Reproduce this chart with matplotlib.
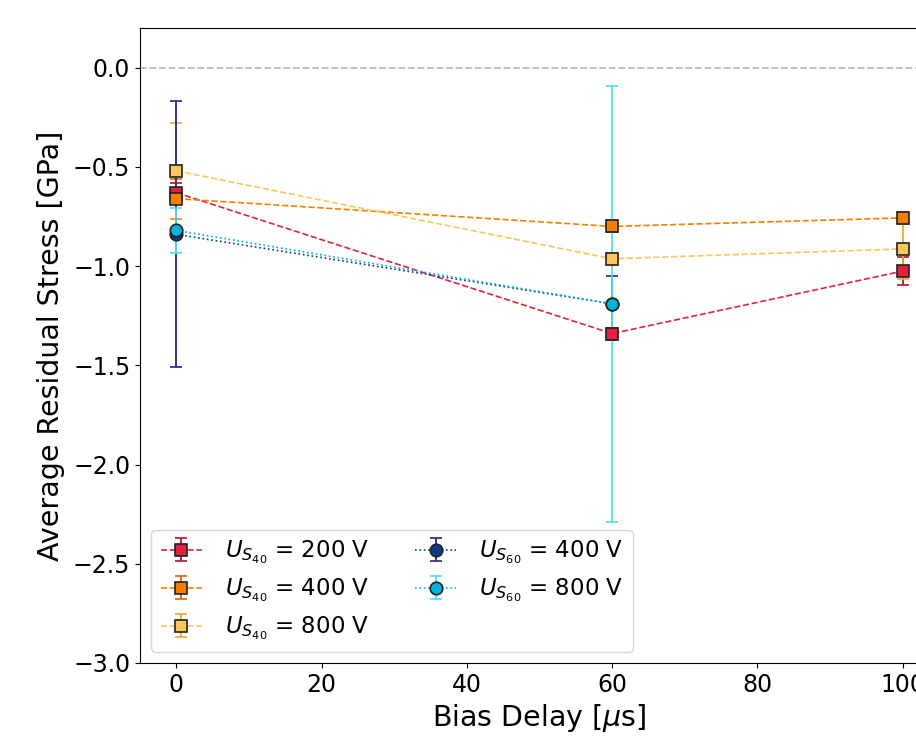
import matplotlib
matplotlib.use("Agg")
import matplotlib.pyplot as plt

x40 = [0, 60, 100]
x60 = [0, 60]

y40_200 = [-0.63, -1.34, -1.025]
e40_200 = [0.05, 0.03, 0.07]
y40_400 = [-0.66, -0.80, -0.757]
e40_400 = [0.10, 0.03, 0.03]
y40_800 = [-0.52, -0.963, -0.913]
e40_800 = [0.24, 0.03, 0.15]

y60_400 = [-0.84, -1.19]
e60_400 = [0.67, 0.14]
y60_800 = [-0.82, -1.19]
e60_800 = [0.115, 1.10]

series = [
    (x40, y40_200, e40_200, r'$U_{S_{40}}$ = 200 V', '#E6213F', '#B5122E', 's', '--'),
    (x40, y40_400, e40_400, r'$U_{S_{40}}$ = 400 V', '#F77F00', '#E0600C', 's', '--'),
    (x40, y40_800, e40_800, r'$U_{S_{40}}$ = 800 V', '#FDC65A', '#E3AC2E', 's', '--'),
    (x60, y60_400, e60_400, r'$U_{S_{60}}$ = 400 V', '#0B3C8A', '#24248F', 'o', ':'),
    (x60, y60_800, e60_800, r'$U_{S_{60}}$ = 800 V', '#00B4D8', '#4CE0F0', 'o', ':'),
]

fig = plt.figure(figsize=(9.16, 7.48), dpi=100)
ax = fig.add_axes([140/916, (748-663)/748, 799/916, 635/748])

ax.axhline(0, color='#bbbbbb', linestyle='--', linewidth=1.3, zorder=0)

for x, y, e, lab, c, ec, m, ls in series:
    ax.errorbar(x, y, yerr=e, label=lab, color=c, ecolor=ec, marker=m,
                linestyle=ls, markersize=9, markeredgecolor='#222222',
                markeredgewidth=1.2, capsize=4, elinewidth=1.3, linewidth=1.2)

ax.set_xlim(-5, 105)
ax.set_ylim(-3.0, 0.2)
ax.set_xticks([0, 20, 40, 60, 80, 100])
ax.set_yticks([0.0, -0.5, -1.0, -1.5, -2.0, -2.5, -3.0])
ax.tick_params(labelsize=17)
ax.set_xlabel(r'Bias Delay [$\mu$s]', fontsize=20.5)
ax.set_ylabel('Average Residual Stress [GPa]', fontsize=20.5, labelpad=6)

ax.legend(loc='lower left', ncol=2, fontsize=16.5, columnspacing=2.0,
          handlelength=1.8, handletextpad=1.0, labelspacing=0.45,
          borderaxespad=0.5)

fig.savefig('out.png', dpi=100)
